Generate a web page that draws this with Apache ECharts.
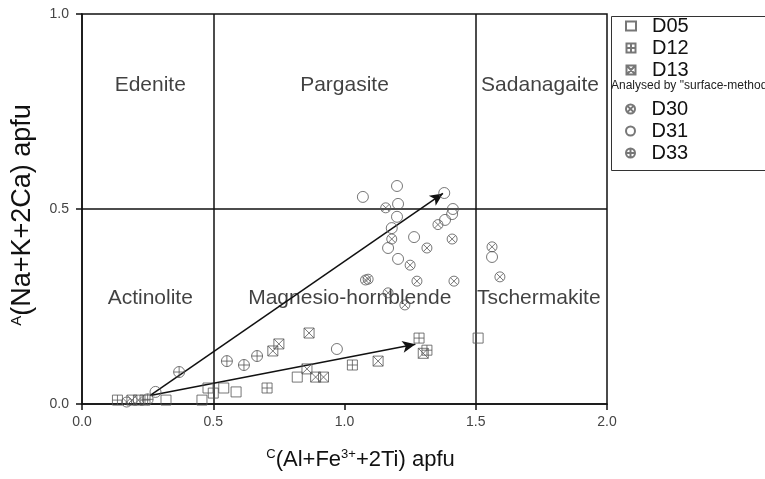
<!DOCTYPE html>
<html>
<head>
<meta charset="utf-8">
<script src="https://cdn.jsdelivr.net/npm/echarts@6/dist/echarts.min.js"></script>
<style>
  html, body { margin: 0; padding: 0; background: #fff; }
  #chart { width: 765px; height: 479px; }
</style>
</head>
<body>
<div id="chart"></div>
<script>
// tick labels
var xTicks = [0, 0.5, 1.0, 1.5, 2.0];
var yTicks = [0, 0.5, 1.0];

// samples, [x, y]
var d05 = [[0.32, 0.01], [0.457, 0.01], [0.48, 0.041], [0.50, 0.028], [0.54, 0.041],
  [0.587, 0.031], [0.82, 0.069], [1.509, 0.169]];
var d12 = [[0.135, 0.01], [0.24, 0.01], [0.705, 0.041], [1.03, 0.10], [1.284, 0.169], [1.314, 0.138]];
var d13 = [[0.19, 0.01], [0.215, 0.01], [0.727, 0.136], [0.75, 0.154], [0.857, 0.09],
  [0.865, 0.182], [0.89, 0.069], [0.92, 0.069], [1.128, 0.11], [1.30, 0.13]];
var d30 = [[0.17, 0.005], [1.157, 0.503], [1.356, 0.46], [1.18, 0.423], [1.41, 0.423],
  [1.314, 0.40], [1.25, 0.356], [1.08, 0.318], [1.09, 0.32], [1.276, 0.315], [1.417, 0.315],
  [1.166, 0.285], [1.23, 0.254], [1.562, 0.403], [1.592, 0.326]];
var d31 = [[0.28, 0.031], [0.971, 0.141], [1.07, 0.531], [1.2, 0.559], [1.38, 0.541],
  [1.204, 0.513], [1.2, 0.48], [1.413, 0.50], [1.383, 0.472], [1.41, 0.487], [1.18, 0.451],
  [1.265, 0.428], [1.166, 0.40], [1.204, 0.372], [1.562, 0.377]];
var d33 = [[0.25, 0.012], [0.37, 0.082], [0.552, 0.11], [0.617, 0.10], [0.667, 0.123]];

// field names and where they sit
var fieldNames = ['Edenite', 'Pargasite', 'Sadanagaite', 'Actinolite', 'Magnesio-hornblende', 'Tschermakite'];
var fieldX = [0.26, 1.0, 1.745, 0.26, 1.02, 1.74];
var fieldY = [0.818, 0.818, 0.818, 0.272, 0.272, 0.272];

// trend arrows [from, to]
var arrows = [[[0.26, 0.022], [1.375, 0.54]], [[0.26, 0.022], [1.27, 0.153]]];

// field boundaries
var bordersX = [0.5, 1.5];
var bordersY = [0.5];

var ink = '#555';
var font = 'Liberation Sans, Arial, sans-serif';

var symSquare = 'rect';
var symPlusSq = 'path://M0,0L10,0L10,10L0,10Z M5,0L5,10 M0,5L10,5';
var symCrossSq = 'path://M0,0L10,0L10,10L0,10Z M0,0L10,10 M10,0L0,10';
var symCrossCi = 'path://M0,5A5,5,0,1,1,10,5A5,5,0,1,1,0,5Z M1.5,1.5L8.5,8.5 M8.5,1.5L1.5,8.5';
var symCircle = 'circle';
var symPlusCi = 'path://M0,5A5,5,0,1,1,10,5A5,5,0,1,1,0,5Z M5,0L5,10 M0,5L10,5';

function pts(name, data, symbol, size) {
  return {
    name: name,
    type: 'scatter',
    data: data,
    symbol: symbol,
    symbolSize: size,
    z: 5,
    itemStyle: { color: 'rgba(255,255,255,0)', borderColor: ink, borderWidth: 1 }
  };
}

var fieldData = fieldNames.map(function (n, i) {
  return { name: n, value: [fieldX[i], fieldY[i]] };
});

var lineMarks = [];
bordersX.forEach(function (v) { lineMarks.push({ xAxis: v }); });
bordersY.forEach(function (v) { lineMarks.push({ yAxis: v }); });

var arrowMarks = arrows.map(function (a) {
  return [{ coord: a[0] }, { coord: a[1] }];
});

var legendText = { fontSize: 20, color: '#111', fontFamily: font, padding: [0, 0, 0, 11] };
var supStyle = { verticalAlign: 'top', fontFamily: font, color: '#111' };

var option = {
  animation: false,
  backgroundColor: '#fff',
  grid: { left: 82, top: 14, right: 158, bottom: 75, show: true, borderColor: '#111', borderWidth: 1.5 },
  xAxis: {
    type: 'value', min: 0, max: 2, interval: 0.5,
    name: '{sup|C}(Al+Fe{sup|3+}+2Ti) apfu',
    nameLocation: 'middle', nameGap: 44,
    nameTextStyle: {
      fontSize: 22, color: '#111', fontFamily: font, padding: [0, 0, 0, 32],
      rich: { sup: Object.assign({ fontSize: 13, padding: [0, 0, 10, 0] }, supStyle) }
    },
    axisLine: { lineStyle: { color: '#111', width: 1.5 } },
    axisTick: { length: 6, lineStyle: { color: '#111', width: 1.5 } },
    axisLabel: { fontSize: 14, color: '#444', fontFamily: font, margin: 11,
      formatter: function (v) { return v.toFixed(1); } },
    splitLine: { show: false }
  },
  yAxis: {
    type: 'value', min: 0, max: 1, interval: 0.5,
    name: '{sup|A}(Na+K+2Ca) apfu',
    nameLocation: 'middle', nameGap: 46, nameRotate: 90,
    nameTextStyle: {
      fontSize: 27, color: '#111', fontFamily: font, padding: [0, 12, 0, 0],
      rich: { sup: Object.assign({ fontSize: 15, padding: [0, 0, 12, 0] }, supStyle) }
    },
    axisLine: { lineStyle: { color: '#111', width: 1.5 } },
    axisTick: { length: 6, lineStyle: { color: '#111', width: 1.5 } },
    axisLabel: { fontSize: 14, color: '#444', fontFamily: font, margin: 13,
      formatter: function (v) { return v.toFixed(1); } },
    splitLine: { show: false }
  },
  legend: [{
    data: ['D05', 'D12', 'D13'],
    orient: 'vertical', left: 620, top: 11,
    itemWidth: 10, itemHeight: 9, itemGap: 2,
    textStyle: legendText
  }, {
    data: ['D30', 'D31', 'D33'],
    orient: 'vertical', left: 620, top: 94,
    itemWidth: 10, itemHeight: 9, itemGap: 2,
    textStyle: legendText
  }],
  graphic: [{
    type: 'rect', left: 609, top: 14,
    shape: { width: 160, height: 154 },
    style: { fill: 'none', stroke: '#333', lineWidth: 1 }
  }, {
    type: 'text', left: 611, top: 80,
    style: { text: 'Analysed by "surface-method"', fontSize: 12, fill: '#222', fontFamily: font }
  }],
  series: [
    {
      name: 'frame', type: 'line', data: [], silent: true,
      markLine: {
        silent: true, symbol: ['none', 'none'], label: { show: false },
        lineStyle: { color: '#111', width: 1.5, type: 'solid' },
        data: lineMarks
      }
    },
    {
      name: 'trend', type: 'line', data: [], silent: true,
      markLine: {
        silent: true, symbol: ['none', 'arrow'], symbolSize: [9, 13], label: { show: false },
        lineStyle: { color: '#111', width: 1.5, type: 'solid' },
        data: arrowMarks
      }
    },
    {
      name: 'fields', type: 'scatter', data: fieldData, symbolSize: 0, silent: true, z: 3,
      label: { show: true, position: 'inside', formatter: '{b}', fontSize: 21, color: '#111', fontFamily: font }
    },
    pts('D05', d05, symSquare, 10),
    pts('D12', d12, symPlusSq, 10),
    pts('D13', d13, symCrossSq, 10),
    pts('D30', d30, symCrossCi, 10),
    pts('D31', d31, symCircle, 11),
    pts('D33', d33, symPlusCi, 11)
  ]
};

var myChart = echarts.init(document.getElementById('chart'));
myChart.setOption(option);
</script>
</body>
</html>
